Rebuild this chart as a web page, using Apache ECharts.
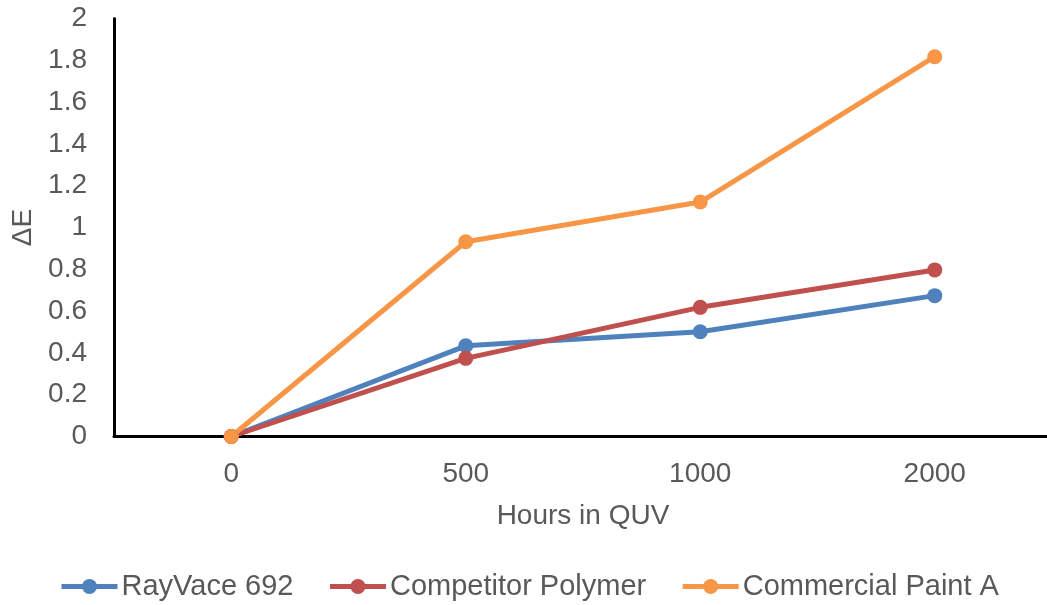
<!DOCTYPE html>
<html><head><meta charset="utf-8">
<script src="https://cdn.jsdelivr.net/npm/echarts@6/dist/echarts.min.js"></script>
<style>html,body{margin:0;padding:0;background:#fff}#c{width:1047px;height:605px}</style>
</head><body><div id="c"></div>
<script>
const categories = ['0', '500', '1000', '2000'];
const rayVace = [0, 0.434, 0.501, 0.674];
const competitor = [0, 0.374, 0.618, 0.797];
const commercial = [0, 0.932, 1.122, 1.817];
const seriesNames = ['RayVace 692', 'Competitor Polymer', 'Commercial Paint A'];
const colors = ['#4F81BD', '#C0504D', '#F79646'];
const values = [rayVace, competitor, commercial];

const font = 'Liberation Sans, Arial, sans-serif';
const fs = 28;
const chart = echarts.init(document.getElementById('c'));
chart.setOption({
  animation: false,
  textStyle: { fontFamily: font },
  grid: { left: 114, width: 938, top: 18.5, bottom: 168.5, containLabel: false, outerBoundsMode: 'none' },
  legend: {
    top: 572, left: 59, padding: 0,
    itemWidth: 56, itemHeight: 19, itemGap: 34,
    lineStyle: { width: 5 },
    textStyle: { fontSize: 29, color: '#595959', fontFamily: font, padding: [0, 0, 0, -1] },
    data: seriesNames
  },
  xAxis: {
    type: 'category', data: categories, boundaryGap: true,
    name: 'Hours in QUV', nameLocation: 'middle', nameGap: 66,
    nameTextStyle: { fontSize: fs, color: '#595959' },
    axisLine: { lineStyle: { color: '#000', width: 3 } },
    axisTick: { show: false },
    axisLabel: { fontSize: fs, color: '#595959', margin: 24 }
  },
  yAxis: {
    type: 'value', min: 0, max: 2, interval: 0.2,
    name: 'ΔE', nameLocation: 'middle', nameGap: 76, nameRotate: 90,
    nameTextStyle: { fontSize: fs, color: '#595959' },
    axisLine: { show: true, lineStyle: { color: '#000', width: 3 } },
    axisTick: { show: false },
    splitLine: { show: false },
    axisLabel: { fontSize: fs, color: '#595959', margin: 27,
      formatter: v => String(Math.round(v * 10) / 10) }
  },
  series: values.map((d, i) => ({
    name: seriesNames[i], type: 'line', data: d,
    symbol: 'circle', symbolSize: 15,
    lineStyle: { color: colors[i], width: 5 },
    itemStyle: { color: colors[i] }
  }))
});
</script></body></html>
